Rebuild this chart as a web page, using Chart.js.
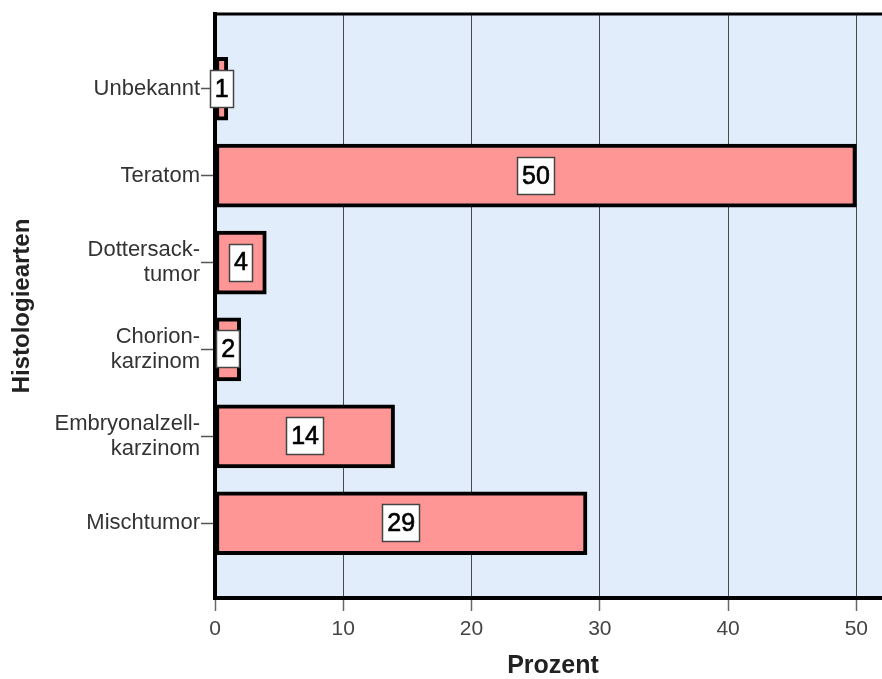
<!DOCTYPE html>
<html>
<head>
<meta charset="utf-8">
<script src="https://cdn.jsdelivr.net/npm/chart.js@4/dist/chart.umd.min.js"></script>
<style>
  html, body { margin: 0; padding: 0; background: #fff; overflow: hidden; }
  #wrap { position: relative; width: 882px; height: 679px; overflow: hidden; }
  #box { position: absolute; left: 0; top: 0; width: 893px; height: 679px; }
</style>
</head>
<body>
<div id="wrap"><div id="box"><canvas id="c"></canvas></div></div>
<script>
// Histology types and their share in percent
const categories = [
  ["Unbekannt"],
  ["Teratom"],
  ["Dottersack-", "tumor"],
  ["Chorion-", "karzinom"],
  ["Embryonalzell-", "karzinom"],
  ["Mischtumor"]
];
const percentValues = [1, 50, 4, 2, 14, 29];
const xTickValues = [0, 10, 20, 30, 40, 50];

const FONT = "'Liberation Sans', Arial, Helvetica, sans-serif";

const points = percentValues.map((v, i) => ({ x: v, y: i }));

// plot background, top frame line
const frame = {
  id: 'frame',
  beforeDraw(chart) {
    const { ctx, chartArea: a } = chart;
    ctx.save();
    ctx.fillStyle = '#E1EDFA';
    ctx.fillRect(a.left, a.top, a.right - a.left, a.bottom - a.top);
    ctx.restore();
  },
  afterDraw(chart) {
    const { ctx, chartArea: a } = chart;
    ctx.save();
    ctx.strokeStyle = '#000';
    ctx.lineWidth = 3;
    ctx.beginPath();
    ctx.moveTo(a.left - 2, a.top);
    ctx.lineTo(a.right + 5, a.top);
    ctx.stroke();
    ctx.restore();
  }
};

// boxed value labels in the middle of each bar
const valueLabels = {
  id: 'valueLabels',
  afterDatasetsDraw(chart) {
    const { ctx } = chart;
    const meta = chart.getDatasetMeta(0);
    ctx.save();
    ctx.font = '25px ' + FONT;
    ctx.textAlign = 'center';
    ctx.textBaseline = 'middle';
    meta.data.forEach((bar, i) => {
      const txt = String(percentValues[i]);
      const cx = (bar.base + bar.x) / 2;
      const cy = bar.y;
      const w = Math.round(ctx.measureText(txt).width + 10);
      const h = 38;
      const x0 = Math.round(cx - w / 2), y0 = Math.round(cy - h / 2);
      ctx.fillStyle = '#fff';
      ctx.fillRect(x0, y0, w, h);
      ctx.strokeStyle = '#444';
      ctx.lineWidth = 1.5;
      ctx.strokeRect(x0 + 0.5, y0 + 0.5, w - 1, h - 1);
      ctx.fillStyle = '#000';
      ctx.strokeStyle = '#000';
      ctx.lineWidth = 0.6;
      ctx.fillText(txt, cx, cy + 1);
      ctx.strokeText(txt, cx, cy + 1);
    });
    ctx.restore();
  }
};

new Chart(document.getElementById('c'), {
  type: 'bar',
  data: {
    datasets: [{
      data: points,
      backgroundColor: '#FF9696',
      borderColor: '#000',
      borderWidth: 4,
      borderSkipped: false,
      barThickness: 63
    }]
  },
  options: {
    indexAxis: 'y',
    responsive: true,
    maintainAspectRatio: false,
    animation: false,
    layout: { padding: { top: 14, right: 2, left: 0, bottom: 0 } },
    plugins: { legend: { display: false }, tooltip: { enabled: false } },
    scales: {
      x: {
        type: 'linear',
        min: 0,
        max: 52.7,
        afterFit(s) { s.height = 81; },
        afterBuildTicks(s) { s.ticks = xTickValues.map(v => ({ value: v })); },
        ticks: {
          font: { family: FONT, size: 21 },
          color: '#444',
          padding: 6
        },
        grid: {
          color: '#4a4a4a',
          lineWidth: 1,
          drawTicks: true,
          tickLength: 13,
          tickColor: '#666',
          tickWidth: 1.5
        },
        border: { display: true, color: '#000', width: 4 },
        title: {
          display: true,
          text: 'Prozent',
          color: '#222',
          font: { family: FONT, size: 25, weight: 'bold', lineHeight: 1 },
          padding: { top: 0, bottom: 0 }
        }
      },
      y: {
        type: 'linear',
        offset: false,
        min: -0.86,
        max: 5.86,
        reverse: true,
        afterFit(s) { s.width = 215; },
        afterBuildTicks(s) { s.ticks = categories.map((c, i) => ({ value: i })); },
        ticks: {
          autoSkip: false,
          font: { family: FONT, size: 22, lineHeight: 1.15 },
          color: '#333',
          padding: 1,
          callback(v) { return categories[v] || ''; }
        },
        grid: {
          offset: false,
          drawOnChartArea: false,
          drawTicks: true,
          tickLength: 14,
          tickColor: '#555',
          tickWidth: 1.5
        },
        border: { display: true, color: '#000', width: 4 },
        title: {
          display: true,
          text: 'Histologiearten',
          color: '#222',
          font: { family: FONT, size: 24, weight: 'bold', lineHeight: 1 },
          padding: { top: 10, bottom: 0 }
        }
      }
    }
  },
  plugins: [frame, valueLabels]
});
</script>
</body>
</html>
